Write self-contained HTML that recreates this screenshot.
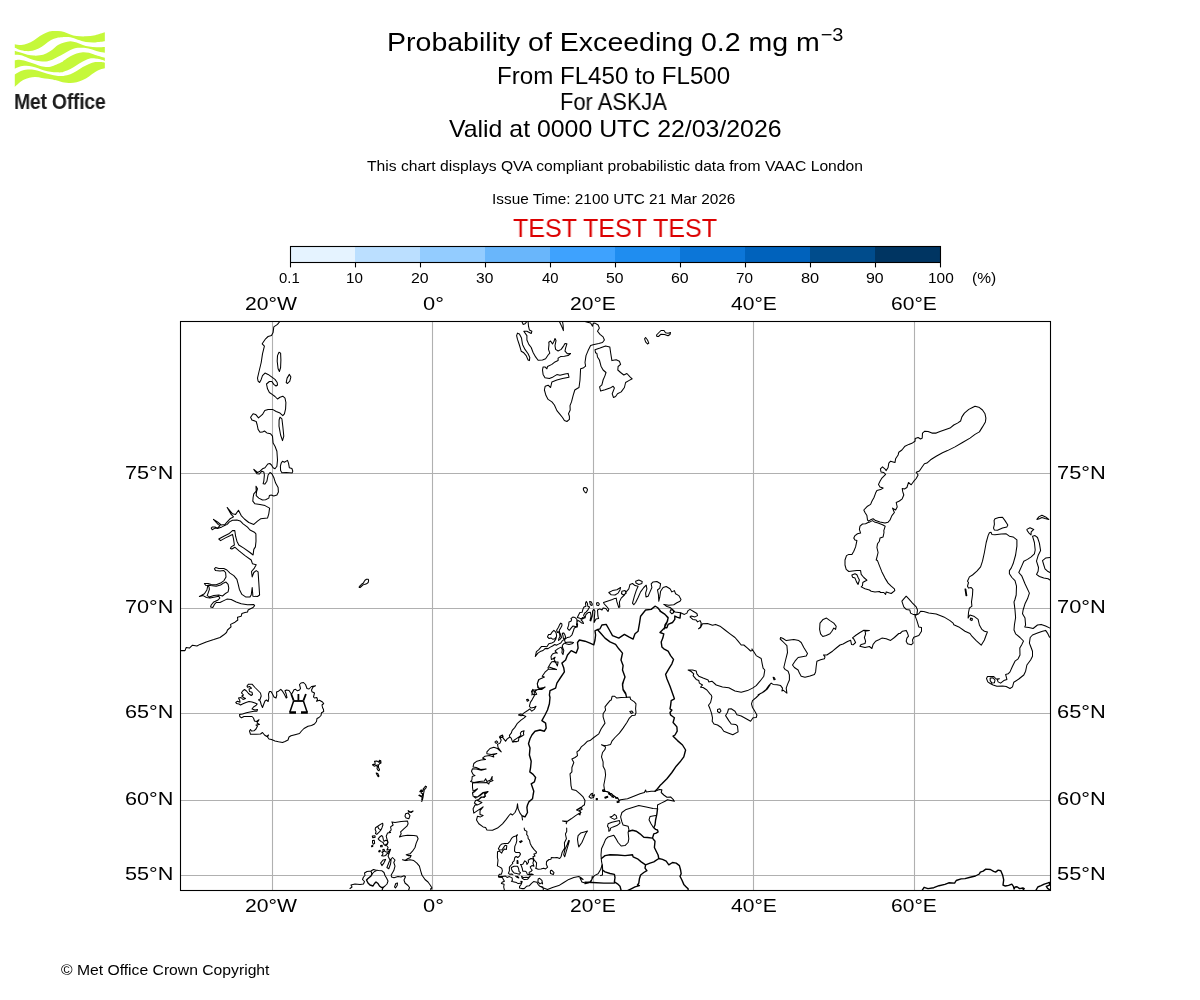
<!DOCTYPE html><html><head><meta charset="utf-8"><title>Probability of Exceeding 0.2 mg m-3</title><style>html,body{margin:0;padding:0;background:#fff}body{width:1200px;height:1000px;position:relative;overflow:hidden;font-family:"Liberation Sans",sans-serif}.t{position:absolute;white-space:nowrap;line-height:normal;transform-origin:0 0;font-family:"Liberation Sans",sans-serif;will-change:transform}.sup{font-size:70%;position:relative;top:-0.52em;margin-left:0.04em}svg{position:absolute;left:0;top:0}</style></head><body>
<svg width="1200" height="1000" viewBox="0 0 1200 1000">
<g fill="#c5f83a"><path d="M14.79,44.25C15.88,44.39 19.19,45.18 21.31,45.06C23.42,44.94 25.44,44.28 27.51,43.51C29.58,42.73 31.64,41.65 33.71,40.41C35.78,39.17 37.85,37.36 39.92,36.06C41.98,34.77 44.05,33.48 46.12,32.65C48.19,31.83 50.34,31.36 52.32,31.10C54.30,30.84 56.02,30.95 58.00,31.10C59.98,31.26 62.14,31.46 64.20,32.03C66.27,32.60 68.34,33.84 70.41,34.51C72.47,35.19 74.03,35.75 76.61,36.06C79.20,36.37 82.81,36.53 85.92,36.37C89.02,36.22 92.07,35.81 95.22,35.13C98.37,34.46 103.23,32.81 104.84,32.34L104.84,41.34C103.23,41.51 98.37,42.29 95.22,42.39C92.07,42.50 88.81,42.39 85.92,41.96C83.02,41.52 80.44,40.56 77.85,39.79C75.27,39.01 72.68,37.77 70.41,37.31C68.13,36.84 65.61,37.00 64.20,37.00C62.80,37.00 63.23,37.15 61.97,37.31C60.71,37.46 58.48,37.46 56.67,37.93C54.85,38.39 53.05,39.01 51.08,40.10C49.12,41.18 46.95,43.04 44.88,44.44C42.81,45.83 40.74,47.44 38.67,48.47C36.61,49.51 34.54,50.21 32.47,50.64C30.40,51.08 28.44,51.23 26.27,51.08C24.10,50.92 21.36,50.25 19.44,49.71C17.53,49.17 15.57,48.16 14.79,47.85Z"/><path d="M14.79,50.64C15.88,51.00 19.19,52.14 21.31,52.81C23.42,53.49 25.44,54.21 27.51,54.67C29.58,55.14 31.64,55.50 33.71,55.61C35.78,55.71 37.85,55.66 39.92,55.30C41.98,54.93 44.05,54.36 46.12,53.43C48.19,52.50 50.34,51.11 52.32,49.71C54.30,48.32 56.02,46.25 58.00,45.06C59.98,43.87 62.14,43.20 64.20,42.58C66.27,41.96 68.34,41.34 70.41,41.34C72.47,41.34 74.54,41.96 76.61,42.58C78.68,43.20 80.75,44.39 82.81,45.06C84.88,45.73 86.74,46.25 89.02,46.61C91.29,46.97 93.83,47.18 96.46,47.23C99.10,47.28 103.44,46.97 104.84,46.92L104.84,52.81C103.75,52.61 100.75,52.19 98.32,51.57C95.89,50.95 92.64,49.71 90.26,49.09C87.88,48.47 86.12,48.06 84.05,47.85C81.99,47.64 80.13,47.49 77.85,47.85C75.58,48.21 72.68,49.09 70.41,50.02C68.13,50.95 66.27,52.30 64.20,53.43C62.14,54.57 59.98,55.81 58.00,56.85C56.02,57.88 54.30,58.86 52.32,59.64C50.34,60.41 48.19,61.24 46.12,61.50C44.05,61.76 41.98,61.45 39.92,61.19C37.85,60.93 35.78,60.52 33.71,59.95C31.64,59.38 29.58,58.55 27.51,57.78C25.44,57.00 23.42,55.81 21.31,55.30C19.19,54.78 15.88,54.78 14.79,54.67Z"/><path d="M14.79,60.26C15.57,60.15 17.63,59.53 19.44,59.64C21.25,59.74 23.58,60.31 25.65,60.88C27.72,61.45 29.78,62.33 31.85,63.05C33.92,63.77 35.99,64.60 38.05,65.22C40.12,65.84 42.19,66.51 44.26,66.77C46.33,67.03 48.39,67.13 50.46,66.77C52.53,66.41 54.75,65.38 56.67,64.60C58.58,63.83 60.71,62.84 61.97,62.12C63.23,61.40 62.80,61.24 64.20,60.26C65.61,59.28 68.34,57.36 70.41,56.23C72.47,55.09 74.54,54.11 76.61,53.43C78.68,52.76 80.75,52.30 82.81,52.19C84.88,52.09 86.95,52.35 89.02,52.81C91.09,53.28 92.58,54.16 95.22,54.99C97.86,55.81 103.23,57.31 104.84,57.78L104.84,60.88C104.06,60.62 101.79,59.74 100.18,59.33C98.58,58.91 97.08,58.50 95.22,58.40C93.36,58.29 91.09,58.19 89.02,58.71C86.95,59.22 84.88,60.41 82.81,61.50C80.75,62.58 78.68,63.98 76.61,65.22C74.54,66.46 72.47,67.91 70.41,68.94C68.34,69.98 65.61,70.86 64.20,71.42C62.80,71.99 63.23,72.20 61.97,72.35C60.71,72.51 58.58,72.46 56.67,72.35C54.75,72.25 52.53,72.04 50.46,71.73C48.39,71.42 46.33,71.06 44.26,70.49C42.19,69.93 40.12,68.99 38.05,68.32C35.99,67.65 33.92,66.88 31.85,66.46C29.78,66.05 27.72,65.79 25.65,65.84C23.58,65.89 21.25,66.31 19.44,66.77C17.63,67.24 15.57,68.32 14.79,68.63Z"/><path d="M14.79,74.53C15.57,74.06 17.63,72.51 19.44,71.73C21.25,70.96 23.58,70.24 25.65,69.87C27.72,69.51 29.78,69.41 31.85,69.56C33.92,69.72 35.99,70.29 38.05,70.80C40.12,71.32 42.19,72.04 44.26,72.67C46.33,73.29 48.39,74.03 50.46,74.53C52.53,75.02 54.75,75.42 56.67,75.64C58.58,75.87 60.71,75.87 61.97,75.89C63.23,75.91 62.80,76.05 64.20,75.77C65.61,75.49 68.34,74.99 70.41,74.22C72.47,73.44 74.54,72.30 76.61,71.11C78.68,69.93 80.75,68.27 82.81,67.08C84.88,65.89 86.95,64.81 89.02,63.98C91.09,63.15 93.15,62.45 95.22,62.12C97.29,61.79 99.82,61.89 101.42,62.00C103.03,62.10 104.27,62.62 104.84,62.74L104.84,68.32C104.06,68.53 101.79,68.94 100.18,69.56C98.58,70.18 97.08,70.91 95.22,72.04C93.36,73.18 91.09,75.04 89.02,76.39C86.95,77.73 84.88,79.13 82.81,80.11C80.75,81.09 78.68,81.82 76.61,82.28C74.54,82.75 72.47,82.85 70.41,82.90C68.34,82.95 66.27,82.95 64.20,82.59C62.14,82.23 59.67,81.16 58.00,80.73C56.33,80.30 55.85,80.30 54.18,79.99C52.51,79.67 50.05,79.21 47.98,78.87C45.91,78.53 43.84,78.25 41.78,77.94C39.71,77.63 37.64,77.06 35.57,77.01C33.51,76.96 31.44,77.11 29.37,77.63C27.30,78.14 25.03,79.08 23.17,80.11C21.31,81.14 19.60,82.69 18.20,83.83C16.81,84.97 15.36,86.42 14.79,86.93Z"/></g>
<rect x="290" y="246" width="65.5" height="16.5" fill="#e5f3ff"/><rect x="355" y="246" width="65.5" height="16.5" fill="#bbdfff"/><rect x="420" y="246" width="65.5" height="16.5" fill="#93ccff"/><rect x="485" y="246" width="65.5" height="16.5" fill="#69b6fb"/><rect x="550" y="246" width="65.5" height="16.5" fill="#3ea2fe"/><rect x="615" y="246" width="65.5" height="16.5" fill="#1f8df0"/><rect x="680" y="246" width="65.5" height="16.5" fill="#0c76d8"/><rect x="745" y="246" width="65.5" height="16.5" fill="#0062bc"/><rect x="810" y="246" width="65.5" height="16.5" fill="#004c8c"/><rect x="875" y="246" width="65.5" height="16.5" fill="#003562"/><rect x="290.5" y="246.5" width="650" height="16" fill="none" stroke="#000" stroke-width="1.1"/>
<line x1="290.5" y1="262.5" x2="290.5" y2="267.4" stroke="#000" stroke-width="1.1"/><line x1="355.5" y1="262.5" x2="355.5" y2="267.4" stroke="#000" stroke-width="1.1"/><line x1="420.5" y1="262.5" x2="420.5" y2="267.4" stroke="#000" stroke-width="1.1"/><line x1="485.5" y1="262.5" x2="485.5" y2="267.4" stroke="#000" stroke-width="1.1"/><line x1="550.5" y1="262.5" x2="550.5" y2="267.4" stroke="#000" stroke-width="1.1"/><line x1="615.5" y1="262.5" x2="615.5" y2="267.4" stroke="#000" stroke-width="1.1"/><line x1="680.5" y1="262.5" x2="680.5" y2="267.4" stroke="#000" stroke-width="1.1"/><line x1="745.5" y1="262.5" x2="745.5" y2="267.4" stroke="#000" stroke-width="1.1"/><line x1="810.5" y1="262.5" x2="810.5" y2="267.4" stroke="#000" stroke-width="1.1"/><line x1="875.5" y1="262.5" x2="875.5" y2="267.4" stroke="#000" stroke-width="1.1"/><line x1="940.5" y1="262.5" x2="940.5" y2="267.4" stroke="#000" stroke-width="1.1"/>
<defs><clipPath id="mapclip"><rect x="180.5" y="321.5" width="870" height="569"/></clipPath></defs>
<g stroke="#b0b0b0" stroke-width="1.1"><line x1="272.5" y1="321.5" x2="272.5" y2="890.5"/><line x1="432.5" y1="321.5" x2="432.5" y2="890.5"/><line x1="593.5" y1="321.5" x2="593.5" y2="890.5"/><line x1="753.5" y1="321.5" x2="753.5" y2="890.5"/><line x1="914.5" y1="321.5" x2="914.5" y2="890.5"/><line x1="180.5" y1="875.5" x2="1050.5" y2="875.5"/><line x1="180.5" y1="800.5" x2="1050.5" y2="800.5"/><line x1="180.5" y1="713.5" x2="1050.5" y2="713.5"/><line x1="180.5" y1="608.5" x2="1050.5" y2="608.5"/><line x1="180.5" y1="473.5" x2="1050.5" y2="473.5"/></g>
<g clip-path="url(#mapclip)"><path d="M279.8,321.5 277.5,324.4 273.8,326.9 273.1,332.5 271.5,335.6 268.1,336.5 265.6,338.8 262.2,343.8 264.4,346.2 262.5,353.8 261.2,362.5 258.8,372.5 257.5,378.1 258.1,381.2 259.6,382.5 261.2,379.4 262.5,375.6 265,373.1 268.1,374.4 271.9,377.2 275,379.4 277.2,382.5 277.5,385 276,386 273.8,384.4 271.9,381.5 269.4,381.5 266.5,384 267.5,388.8 269.4,392.5 272.5,394.6 275,396.5 277.5,399 280,397.2 282.8,396.2 285,398.1 285.9,402.5 285.6,408.8 284.4,413.8 282.8,415.6 280,413.1 276.2,411.5 272.5,409.4 268.1,409.4 264.8,410.6 262.5,414.4 258.5,417.9 255.6,414.4 253.1,413.8 250.6,417.2 251.9,420 256.2,421.5 257.2,425 258.1,429.4 260,432.2 262.5,432.1 264.4,431 266.9,432.9 270.6,433.8 272.5,436.2 273.1,443.1M279,352.2 280.6,353.1 280.9,360 280.6,367.5 279.4,371.5 278.1,368.8 277.2,361.2 277.5,355.6ZM289.4,374.4 290.9,376.9 289.8,381.2 287.5,383.5 286.2,382.5 287.1,378.1ZM280,417.2 281.9,418.8 282.8,426.2 283.8,436.2 282.5,440.6 280.6,435 279,426.2 279.1,420ZM273.1,443.1 275,446.2 276.9,451.2 277.5,460 276.9,466.2 275,468.8 273.1,467.8 271.5,465 269.8,463.5 267.8,464 265,467.8 262.5,468.8 260,471.2 257.5,472.5 253.8,469.4 256.9,473.8 259.4,474 261.9,471.2 263.8,471.9 264.4,475 263.8,481.2 263.1,483.8 264.8,484.1 266.9,481.2 268.1,475 270,472.5 271.9,473.8 273.8,477.5 275.6,483.1 278.1,487.5 278.4,491.9 276.9,495 273.8,495.9 271.2,495 269.4,495.6 268.8,498.1 265.6,499.8 262.5,500 258.8,498.1 256.2,495.6 256.5,491.9 257.5,488.8 256,486.2 256.2,491.2 253.8,493.8 253.1,497.5 252.8,501.2 255,503.8 260,504.4 265,505.6 269.6,508.1 268.8,513.8 267.5,518.1 260.6,518.8 257.5,521.2 253.8,524.4 248.8,522.5 244.4,519 241.2,515.6 238.5,510.2 235.6,514.4 232.5,513.8 227.2,507.5 231.2,514.4 233.5,516.9 230,518.8 227.2,521.9 225,524.4 221.2,525 217.5,521.9 213.5,519.4 218.1,524.4 220,525.6 217.5,528.1 215,526.9 212.5,526.9 211.2,528.1 212.2,529.8 215,528.1 217.5,528.5 221.9,526.9 227.2,524.4 229.4,521.9 232.5,520.2 236.9,520 240.2,520.9 243.1,523.8 247.5,527.2 250,530 254.4,532.2 255.9,533.8 256,541.2 255.4,546.9 253.8,549.4 253.1,555 250,552.5 243.8,548.1 238.8,545 236.9,541.2 235.6,536.2 234.8,530.6 232.5,530.6 228.8,533.8 223.8,536.2 218.8,539 220.6,540.6 225,538.1 229.4,536 232.5,534.4 233.5,538.8 234.4,545 231.2,546.9 230.4,548.5 231.9,549 234.8,547.2 238.8,550.6 245,555.6 251.2,560M281.2,463.1 282.5,461.2 284.4,462.2 287.5,460.4 288.5,463.1 289.4,467.8 291.9,468.5 292.8,471.2 292.2,472.9 286.2,472.5 281.9,472.8 280.6,470.6 280.4,466.2ZM251.2,560 252.5,563.8 256.2,564.8 254.4,568.1 251.5,571.5 252.2,576.9 253.8,572.5 256.2,570.6 258.1,571.9 258.8,582.5 259.6,595 257.5,596.5 252.9,596.2 252.2,587.5 251.2,595 250,596.9 245.6,596.9 241.9,594.4 239.4,589.4 238.1,583.8 236.9,579.4 233.8,575.6 230,573.1 226.9,570 223.8,568.5 218.8,568.4 215.6,567.5 214.4,568.8 215.6,570.6 220,571 223.8,570.6 225.6,572.5 226,576.9 224,580.6 220.6,583.1 216.2,584.8 211.2,584.4 208.1,583.5 204.4,583.5 205.6,585.2 207.8,585.6 206.9,590 204.4,593.8 199.4,596.5 203.1,595.6 206.5,597.5 210,598.1 215,596.9 218.8,596.2 219.8,598.1 218.1,600 213.8,601.9 211.2,605 210.6,606.9 212.8,607.5 214.4,604.4 216.2,602.5 220,602.5 223.8,600.6 226.9,599.1 231.2,599.6 236.2,601.9 241.2,603.8 247.5,604.8 253.8,604.6 254.6,605.6 253.1,607.5 250,609 248.1,610 247.5,612.1 245,612.5 241.9,613.5 241.2,616.2 237.5,617.2 237.8,620 235,622.2 230.6,624.4 231,626.9 227.5,630 226.5,632.5 223.8,634.8 220,637.5 213.8,639.6 206.2,641.9 200,644.4 196.9,646 192.5,645.2 189.4,648.1 186.2,647.5 185,650.6 180.6,650.6M208.1,585.2 210.6,585.6 216.2,586.2 220.6,585 223.8,582.9 226,582.1 228.1,584.4 228.8,588.1 228.1,591.9 225,593.8 222.5,596 218.8,595 213.8,595.6 209.4,596.9 207.2,595.6 208.1,593.1 209.4,589.4 209,586.9ZM247,686 248.5,684.2 252,684.2 255,687.5 258,690.5 260.5,693 261.2,696 260,699.5 258.5,699.8 260.2,701 261.2,704.5 262.5,707.5 263.8,704 265,701 266.5,700 268.2,701.5 268.8,698 268.5,694 269.5,691.5 271,691.5 272.5,694 274,697 276,698 276.8,695 276.5,692 278.5,691.2 280.8,689.3 282.5,691.2 284.5,694.5 286.2,698 287,697.5 286.2,694 285,690.8 286.5,690 289,690.5 291,693.5 292.2,693.3 294,689.8 295.5,689.3 297.5,690.8 299.5,690 300.5,688.5 299.5,684.5 301,683 303.5,682.5 305.5,684.5 307,688.5 309,689 311.5,686.5 315.5,685.8 313,687 311.5,690 312,691.8 314.5,693 313.5,697 314.5,698 316.8,697.5 317.5,699.5 316.5,701.2 319.5,700.2 322.5,702 323.7,703.5 322,705 322.5,707.5 323.5,709.5 323.7,711.5 321.5,712.8 321,715.5 319,717.5 317,718.5 316.5,721.5 314.5,724 311.5,725.5 308,726.2 304,728.5 301.5,731 299.5,733.5 295,734.7 291,735.8 289,737 288,740 285,741.5 282.5,742.5 278.5,741.8 275,741 271.5,739.5 269,739 267.5,737 268.5,735 266.8,736.5 264.5,735 262.5,732.5 260.5,734 256,734.3 250.5,734.3 249.5,731 250.5,729.5 251.5,731 254,730.8 256,729 257.5,726 256,725 259.5,724.5 257,723 259,719.8 256.5,721.5 254.5,721 253.5,718 252,716.5 248,716.5 244,716.5 241.5,717.8 239.8,716.5 239.5,714.5 242.5,714 246.5,712.8 250,712 254,711.2 257,711.2 257.5,709.5 255,710 252,709 253.5,707 256,705.5 257.2,704 255,703 252,702 249,701.5 246,702.5 243,703.8 240.5,705 239,704 236.5,703.5 235.8,702.5 237.5,701.2 240,702.2 239.8,700.5 238.5,698 241,697.5 243,699.5 245.5,698.5 243.5,697.5 241.8,696 243.5,695 241.5,692.8 242.5,691.2 244.5,689.5 246.5,691 248.5,693.5 251.2,695.5 252.5,694.5 252,692.2 249.5,691.5 249,689 251.5,688.2 249.5,686.5 247.5,687.2ZM521.9,321.5 523.1,324.4 525,323.8 526.9,321.5M528.1,321.5 528.5,326.2 529.4,330 531.9,331.2 531.2,333.5 526.9,331.2 523.8,331.2 526.9,335.6 526.9,340 528.8,344.4 531.2,347.5 533.1,352.5 535.6,356.9 538.1,360.2 542.5,360 545.6,358.8 548.1,355 549.8,353.1 548.5,349.4 549,344.4 548.8,342.2 550.6,341 552.5,344 554,341.2 555,338.5 556,340.6 555,345.6 555.6,349.4 558.1,351 561.2,349.4 563.8,345.6 565,343.5 566.9,343.8 565.6,348.1 565,351.2 567.5,353.8 570.6,353.5 568.1,355.6 564.4,356.2 560.6,356.6 558.1,358.1 558.1,360.6 555,361.9 551.9,364.4 547.5,366.5 546.9,368.8 545,366.9 543.1,366.9 542.5,370 543.1,374.4 545,377.8 549.4,378.5 553.1,376.9 556.9,374.6 560,375.2 565,374 568.1,373.4 569,377.2 562.5,378.5 556.9,380 551.9,381.9 550.6,387.5 548.1,385.2 545.2,386.2 544.4,390 546,395.6 548.1,399.4 551.9,401.9 554.4,405 556.9,410.6 560,414.4 562.5,417.5 564.4,420.6 566.9,421.5 569.4,419.4 569.4,416.2 568.5,413.8 570.2,410 570,405.6 571.5,401.9 573.1,395.6 574.8,390 577.2,388.5 579,387.5 580,380 580.6,368.8 583.1,368.1 585.6,366.2 585,362.5 586,355.6 588.1,350.6 590.6,345.6 593.1,344.8 598.8,343.5 602.5,342.5 604.4,340 603.1,336.9 600,334.4 597.5,331.2 599.4,328.1 598.1,325 595,323.1 593.1,323.5 592.5,326.2 590.6,323.1 587.5,322.2 585,321.5M559.4,321.5 561.9,326.9 563.4,330.6 563.1,325 562.5,321.5M517.5,333.1 519.4,334 521.5,338.1 522.5,344.4 525,349.4 528.1,353.8 529.8,357.5 529.4,360.6 528.1,360 526.2,355.6 523.8,352.8 521.2,351.2 519.4,345 517.5,339.4 516.6,335.6ZM595,349.8 600,348.1 605.6,346 609.8,346.9 610.6,352.5 611.9,360.6 616.2,359.8 619.4,361.2 620.6,364.4 618.1,366.5 617.8,370 620.6,372.5 623.8,375 626.9,373.5 630,376.9 632.2,378.8 628.8,380.6 625.6,382.5 624.4,387.5 621.2,391.9 617.5,393.8 615.6,396.5 613.5,397.5 612.2,393.8 614.4,388.1 613.1,386.2 610,388.1 605,389.8 600.6,391 599.6,386.9 601.9,384.8 603.1,380 605,375.6 606,372.5 603.1,370 601,366.2 599.4,360 597.5,356.9 596.9,353.5 595.6,352.8ZM645.6,337.5 647.5,340 648.8,343.1 647.5,344 645.6,341.9 644.6,338.8ZM656.5,335 659,332.5 661,330.5 664,330.5 665.5,332.8 668,333.2 670.5,332.5 670,334.5 668,335.8 664.5,334.5 661,334.2 658.5,336.5 657,336.5ZM583.4,488 585,487.5 586.5,487.9 587.5,489.5 587,491.2 586.2,492.8 585.4,492.8 584.2,491.2 583.4,489.8ZM359.2,587.5 360,587.6 361.2,586.5 363,584.8 364.5,584.5 366.5,583.8 368.2,582.5 368.6,580.5 368.2,579.2 366.5,579.2 365,580.2 364,581.8 363.5,583 361.8,584 360,585.8 359.1,587ZM867.5,520 866.9,515.6 865,512.5 863.8,510 867.5,506.2 870.6,504.4 871.9,501.2 874,497.5 875.6,493.1 876.9,490.6 880.6,489.6 883.1,488.1 880,486.9 878.5,484.4 880,481.2 881.9,478.1 885.6,474.4 883.8,472.5 881,471.9 880.4,468.8 882.5,466.9 884.8,468.8 886.2,470.6 888.1,467.5 888.8,463.1 890.6,461.2 893.1,461.9 895,462.5 895.6,458.8 898.1,455 898.8,452.2 901.9,450 905,446.2 908.8,444.4 912.5,442.9 915,441.2 915.2,438.5 918.1,437.5 920.6,439 922.2,438.1 922.5,433.1 924.8,431.2 928.1,431.5 931.9,433.1 936.2,433.1 940,431.5 945,429.8 950,428.1 953.8,425 957.5,423.1 960.6,421 961.9,416.9 964.4,413.1 968.8,409.4 972.5,407.5 975,406.2 978.8,407.2 982.5,410 985,413.8 985.9,418.1 985.4,421.9 982.5,426.9 979.4,431.9 975,434.4 970,438.1 962.5,442.5 955,446.9 947.5,450.6 942.5,452.8 936.2,456.2 930.6,459.8 926.9,463.1 924.4,463.8 921.9,467.2 919.4,471 916.2,472.2 918.1,475 916.2,478.5 913.8,481.2 911.2,484.8 908.5,482.5 906.9,487.5 904.4,489 902.2,488.5 902.8,491.9 903.8,495 902.2,498.8 899.4,501 896.2,502.5 897.2,506.9 895.6,510 892.5,508.1 894.4,512.5 891.9,515.6 890,520M867.5,520 868.8,521.2 871.2,519.4 873.1,518.8 875.6,520.6 880,521.9 885,523.1 888.1,522.2 890,520M868.1,522.5 865.6,523.8 862.5,524 860,526.2 859.4,529.4 860.6,533.1 857.5,533.8 855,535.6 853.8,538.1 855,540 856.9,540.6 855.6,546.9 853.8,551.2 851.9,554.4 848.8,554.4 846.5,555.6 845,560 845,565 846.2,569.4 848.8,571.5 852.5,571 856.9,570.4 860.6,570.6 861.2,574.4 863.8,577.5 866.9,580.2 864.4,581.5 862.8,582.5 862.5,585.6 861.2,586.9 865,588.8 869.4,590 871.2,591.2 875,591.9 879.4,591.5 880.6,592.5 883.8,592.5 885.6,594.4 886.2,591.9 888.8,592.8 891.2,593.5 894.8,590.6 894.4,588.8 891.2,586.2 888.1,583.1 885,578.1 881.9,571.9 879.4,565.6 877.5,560.6 876.2,560 877.2,556.2 878.1,552.5 876.9,547.5 877.5,543.8 879.4,541.2 880,538.1 883.1,536.9 884,532.5 883.8,530.6 885.2,526.2 882.5,524.8 878.1,523.1 874.4,521.9 872.5,520.6 870,521.9ZM851.9,575 855,573.8 856.9,574.8 858.1,577.5 859.4,580 858.1,584.4 856.5,581.9 855,578.1 852.5,577.2ZM906.2,596.2 908.8,598.8 912.5,603.1 916.2,606.9 917.5,610 916.9,614.4 913.1,614.4 910.6,613.1 909.8,610 906.2,609.4 903.8,606.9 902.5,603.1 901.9,601.2 903.8,598.8ZM979.4,625 978.1,619.4 973.8,616.2 970,615 968.1,618.1 968.5,612.5 969.4,608.1 971.9,606.2 971.5,601.9 972.5,595 972.8,589.4 971.2,587.5 968.5,588.1 967.5,586.2 968.5,582.5 967.5,581.2 969.4,576.9 972.5,575 976.9,571.2 980.6,566.9 982.5,561.2 984.4,552.5 986.2,542.5 988.1,535.6 989.4,532.8 991,532.2 991.9,534.4 995,534.8 1001.2,534 1006.2,533.8 1009.4,536.2 1013.1,536.9 1016.9,539.8 1016.9,546.2 1015.6,555 1013.1,563.8 1011.2,568.1 1009.4,570.6 1009.4,573.8 1011.9,577.5 1015,580.6 1016.5,586.2 1016.2,595 1014.8,600 1014,601.9 1015,610 1015.6,617.5 1014.4,625M970.6,618.1 972.5,618.8 971.9,620.6 970.2,619.8ZM995,518.8 998.8,517.5 1002.5,517.2 1005,520.6 1007.8,525 1006.9,526.9 1002.5,528.1 997.5,530.2 994.4,530 993.5,528.1 994.4,524.4 994.1,520.6ZM965,589 965.8,589 966.8,595.6 966,595.6ZM1026.9,529.4 1030,527.8 1033.8,529.4 1031.2,531.9 1031,535 1028.8,532.8 1027.2,530.6ZM1025.6,625 1025,618.1 1022.5,613.8 1023.1,610 1025,603.8 1027.5,598.8 1029.4,593.1 1025,583.8 1021.9,576.2 1018.8,572.5 1021.9,565.6 1023.8,561.2 1027.5,559.4 1031.2,556.9 1034.4,553.8 1035.2,550 1034.4,542.5 1032.5,536.2 1035,535.6 1037.5,537.5 1039.4,543.1 1040.6,550.6 1038.1,555.6 1036.5,561.2 1038.5,567.5 1038.1,571.2 1036.5,574.4 1039.4,576.5 1043.8,578.1 1048.1,578.8 1050,580M1050,557.5 1045.6,558.1 1042.5,560.6 1043.8,565 1045,568.8 1047.5,571.2 1050,572.5M1036.9,519.4 1038.8,516.9 1041.9,515.2 1045.6,516.9 1048.8,519.4 1045,518.5 1041.9,517.5 1039.4,518.8ZM915,615.6 918.8,613.8 920.6,611.2 923.8,611.5 928.8,613.1 936.2,614 943.8,616.9 950,620.6 953.1,623.1 953.8,624.8 958.8,626.9 965,631.2 970,633.5 971.9,636.2 976.2,640.6 981.2,645.2 984.4,640 986.2,635 987.5,631.9 984.4,631.2 981.9,629.4 979.4,625M915,615.6 916.9,620.6 918.8,626.9 921.5,627.5 921.5,631.2 918.8,635.6 913.8,637.2 912.5,640 913.1,643.1 911.2,644.8 907.5,643.8 906.2,641.2 906.9,638.1 908.5,636.2 907.5,633.1 906.2,630.4 902.5,631.2 900,633.5M1014.4,625 1014,630 1015.6,633.8 1020,637.5 1023.5,641 1021.9,644.4 1019.8,648.1 1020,655 1018.1,658.8 1015,661.2 1012.5,666.2 1010,671.9 1008.1,673.8 1005.6,674.4 1006.9,679.4 1003.8,680.6 1000.6,683.1 998.1,681.9 997.2,679.4 999.4,678.8 996.2,679 993.8,676.5 987.5,676.5 986.5,678.5 987.8,681.9 990.2,683.5 993.1,685 996.9,686.2 1002.5,686 1006.2,686.5 1010,688.5 1012.5,686.9 1013.8,682.2 1018.8,679 1023.8,675 1025.6,671.2 1026.9,665 1030.6,660 1032.5,656.2 1032.5,651.2 1030.6,646.2 1029.4,643.1 1030.2,637.5 1032.5,635 1037.5,633.1 1042.5,631.2 1045.6,630.4 1047.5,633.1 1049.4,636.9 1050,637.5M990.2,678.1 993.1,677.8 995,680 994.4,682.8 991.9,683.1 990.2,680.6ZM1025.6,625 1024.8,626.9 1028.8,627.5 1033.1,628.5 1037.5,625 1041.2,624.4 1045.6,626 1050,628.1M531.9,695 532.5,690.2 538.8,689.4 545,687.2 538.8,688.5 537.2,683.8 538.5,679.8 544.4,677.1 542.2,676.2 545,672.2 548.5,669.1 556.5,669.6 549,666.9M548.5,669.1 548,667.8 549.9,664.4 551.8,661.8 554,661.4 555.9,662.9 557.4,665.9 558.1,662.1 555.5,661.8 554,659.5 555.1,657.3 552.9,658.8 551.4,659.5 551,656.5 552.5,653.9 555.5,652.8 557.4,653.1 555.9,652 555.1,650.9 558.1,648.6 561.1,647.1 562.3,649.8 561.9,652.8 563,654.6 563.8,650.5 562.6,647.5 562.3,645.3 564.1,643.4 566.8,642.3 570.5,642.1 573.5,642.6 572,643.8 569,644.5 566,643.8 565.3,642.3 564.5,640 565.3,638.9 567.5,637.4 569.8,637 572,634.8 573.1,631.8 574.3,628 575.8,627.3 577.3,626.9 577.6,624.3 576.9,622 578,620.5 579.5,621.3 581.8,623.1 583.6,623.4 582.5,621.3 581,619.8 582.5,617.5 585.1,617.9 585.9,614.5 588.1,612.6 590.4,612.3 591.1,616 590,620.5 590.8,620.9 592.3,616 592.6,611.1 593.8,609.3 594.9,611.1 594.5,616 594.1,622.4 596,619 598.6,618.6 597.9,616 597.5,610 599.8,608.9 602,610 603.1,608.1 605.8,608.5 608,611.5 608.8,609.3 606.5,606.3 604.3,604 603.5,602.5 605.8,601.8 609.5,600.6 612.5,599.5 614.8,598.4 616.3,598.2M616.2,598.1 616.9,601.9 618.8,607.5 619.8,606.9 619.4,601.9 621.2,598.1 624.4,595 626.2,591.9 628.8,588.8 630,584.4 632.5,583.5 635,585.6 638.1,586.2 636.2,590.6 634.4,596.2 632.5,603.1 633.8,604.8 635.6,602.5 638.1,597.5 640.6,591.9 643.8,587.5 646.2,585.2 646.9,588.8 645.6,593.1 646,596.9 648.1,596.2 650,591.9 651.9,587.5 651.2,583.8 653.1,581.9 656.9,581.5 660.6,583.8 659.8,588.1 657.5,590 658.5,595 658.8,601.2 659.8,596.9 660.6,591.2 663.1,587.5 666.2,586.5 670,588.8M535.3,656.5 536.4,651.6 538.6,649.8 541.6,646.4 544.6,646.4 546.9,646.8 548.8,643.8 551.8,643 554,641.9 555.9,638.9 556.6,635.9 556.3,633.6 555.5,631.8 553.9,630.3 552.1,632.1 550.6,634.4 548.6,634.4 547.4,636.9 549.1,638.5 551,637.9 552.9,639.3 554.8,638.7 556.1,637M535.3,656.5 537.9,653.1 540.1,651.6 543.1,650.5 545,648.6 548,648.6 550.3,647.1 552.5,646 554.8,644.5 556.3,645.3 558.5,644.1 560.8,643 562.3,640.8 564.1,639.3 565.3,638.5M560.8,623.1 561.9,623.9 561.9,625.8 560.4,628.4 559.3,630.3 559.6,632.5 560.8,634.8 561.5,637.4 560,639.3 558.5,640.4 558.9,638.5 560,636.6 559.6,634 558.5,631.8 557.4,632.5 556.6,630.3 558.5,627.3 559.6,624.6ZM562.3,633.3 563.8,632.9 564.9,634.8 565.6,637 564.9,638.9 563.4,638.5 563,635.9ZM567.5,628.4 568.6,625.4 569,622 570.9,621.3 571.6,619.8 570.9,618.6 572.8,617.1 575,617.5 576.9,619.4 576.9,622 576.5,624.6 577.3,626.9 575.4,626.5 572.8,626.1 570.9,628.4 569.4,630.3 568.3,629.5ZM577.3,617.5 579.1,614.1 579.9,612.6 582.1,612.3 582.9,609.3 584,607 585.9,606.3 585.5,603.3 586.3,601.4 587.4,603.3 587.8,606.3 589.6,607 588.1,609.6 586.3,611.9 584.8,613 583.6,615.3 584.8,617.5 582.5,619 579.9,618.3ZM589.6,601.4 591.1,601.8 592.3,604 591.9,605.5 590.4,604.8ZM608.8,592.5 612.5,590.6 616.9,589.8 620.6,587.5 620,590 618.1,593.1 615,595 611.2,594.8ZM635.6,581.2 638.8,580 642.2,581.5 641.9,583.5 638.8,584.4 636,583.1ZM596.5,603.1 598.1,602.5 599.4,604 598.5,605.6 596.9,605.2ZM621.9,591.2 625,590.6 626.2,593.1 623.8,595 621.5,593.8ZM670,588.8 671.9,591.9 674.4,590.6 675.6,593.8 678.8,595.6 681,599.4 680,601.2 676.9,602.8 673.8,604.8 668.8,605.2 663.8,604.4 666.2,606.2 670,607.5 672.5,609.4 675,611.9 680.6,612.8 684.4,614.4 686.9,613.1 688.1,610.6 690,609.4 693.1,611.2 696.9,613.5 697.5,615.6 695,616.9 691.2,616 690,616.9 692.8,619.4 696.2,620 697.5,621.9 700,620.6 701.2,623.1 700.6,626.9 698.5,628.8 700.6,627.5 702.5,623.8 707.5,623.5 712.5,625.2 715.6,624.4 720,626.2 725,630 730,633.8 735,637.5 738.1,641.2 741.2,645 743.8,645 747.5,648.1 750.6,651 752.5,650.6 751.9,649 753.5,651.2 756.2,655.6 761.2,658.5 762.2,663.8 763.1,668.1 764.8,670 763.8,676.2 760,681.2 756.2,685.6 752.5,688.1 747.5,690.6 741.2,692.2 735,691 728.8,687.8 722.5,686.9 716.2,685 711.9,681.2 708.8,681.9 708.1,680 703.1,678.1 698.8,676.2 696.9,673.8 696.2,671 692.5,670 688.1,670 691.2,671.5 693.8,673.8 693.1,675.6 696.2,679.4 698.8,680.6 699.4,683.1 702.5,685 700.6,687.2 703.1,687.5 706.9,690 710,693.8 711.2,695M670.6,609.8 670,611.9 671.9,613.8 673.8,612.5 673.1,610.2ZM758.1,695 758.8,694.4 762.5,692.5 766.2,689.4 768.8,685.6 771.2,683.1 773.1,684.4 776.9,684.8 780.6,685.6 782.5,688.1 781.9,691 783.1,690.2 786.9,693.1 786.2,688.1 787.5,684.4 789.4,680 789.4,675 788.1,671.2 785,669.4 783.8,667.5 785.6,660 787.5,652.5 786.9,645.6 783.8,642.5 780.2,639 780.6,637.5 783.1,638.5 786.2,640.6 793.8,639.4 798.8,640.6 801.2,642.5 803.8,647.5 807.5,653.5 806.2,656 798.1,657.5 795,661.2 792.5,665 794.4,667.5 798.1,670 799.4,673.1 801.2,676.2 805,677.2 810,676M773.1,677.2 774.4,677.8 775.2,679.4 774,679.8ZM711.2,695 711.9,696.9 710.6,702.5 708.5,705.2 710,708.8 711.5,713.1 712.5,717.8 712.2,721.2 714,724 717.5,725 721.2,727.5 723.8,731.2 728.1,732.9 732.8,734.8 738.1,731.9 737.5,726.2 735.6,724.4 731.2,724 728.8,720.6 725.6,715.6 727.5,712.5 728.5,709 731.2,708.8 735,711.2 736.9,714.8 741.2,716 746.2,718.8 750.6,721.2 753.1,717.8 756.2,717.5 756.9,715 754.4,710.6 752.5,707.5 751.5,703.8 752.5,700.6 756.2,697.5 760,693.8 763.8,691.9 767.5,688.8 770,685M717.5,709.4 719.8,708.8 721,711 719.4,712.8 717.5,711.5ZM810,676 814.4,674.4 815.6,671.9 816.2,666.2 816.9,661.2 820.6,659.8 824.4,658.8 825,656.9 823.5,655 826.9,655 832.5,651.2 836.9,647.5 840,645 843.1,644 847.5,641.5 850.6,640.2 851.5,644.4 853.1,644.8 855.6,642.5 853.8,639 852.5,637.8 856.2,635 860,632.5 863.8,630.2 869.4,630.6 865,631.2 865.6,633.8 864.4,637.5 865.6,641.2 865,643.5 861.2,644.4 859.8,646.2 865,647.5 869.4,646.5 871.9,648.5 873.1,644.4 875.6,641.2 878.8,639.8 881.9,638.1 886.2,638.8 890.6,640.4 894.4,637.5 898.8,633.5 900,633.5M820,623.1 823.1,619.4 826.5,618.1 830,620.6 833.8,623.1 836.2,626.2 835.6,629.4 833.8,628.1 831.9,631.2 830,633.8 826.2,635.4 822.8,636.5 820.6,633.8 819.6,629.4ZM405.6,813.8 408.1,813.1 410,815.6 408.8,818.8 406.2,818.1 405,816.2ZM408.1,810.6 410.6,811.9 413.1,811 411.2,812.5 408.8,811.9ZM421.9,875 420.6,870.6 419.4,866.2 416.9,863.1 413.8,860.6 410,859.8 406.2,860.6 402.5,859.8 405,860.6 407.5,858.8 410,857.8 411.2,855.6 408.1,855.6 406.2,854.8 410,853.8 412.5,851.2 415,847.5 416.2,843.1 418.1,838.8 416.9,836 413.8,835.4 407.5,835.2 402.5,836 399.4,836.9 401.2,833.8 400.6,831.9 403.8,828.8 406.9,826.2 408.1,823.8 407.5,821 401.2,821.6 395,822.5 391.9,821.9 393.1,825 390.6,826.9 391.2,830 389.4,831.9 390.6,832.5 387.5,833.1 386.2,836.2 386.9,838.8 388.1,842.5 386.2,845 388.1,847.5 386.9,850 390.6,849.4 389.4,852.5 388.1,856.2 390,860 392.5,857.5 395,860 393.8,862.5 395,866.2 393.8,870.6 391.2,875M380.6,863.1 383.1,860 385.6,859.4 383.8,863.1 381.9,865.6ZM386.9,867.5 389.4,861.2 391.2,858.8 390.6,863.8 388.8,868.8ZM421.9,875 425,879.5 428,882 430.5,885.5 432,888 430.5,889 431.5,890.5M391.2,875 391.5,877 394,877.8 398,876.5 401,877 404,875.8 405.5,876.8 404,880 405,883 408,885.5 409.5,887.5 408.5,890.5M394.5,887 395.8,883.5 397.5,883 397.2,885.5 395.5,888ZM350,888.5 352,887 351,885 355,884 360,884.5 363.5,884 364.5,881.5 362.5,879.5 363.5,877 365,875.5 364.5,873 367,871.5 371,871 373.5,869.5 375.5,870 378.5,870.5 382,870.8 384,872.5 385,875.5 386.5,878 388,881 387,884 385,886 383,887.5 382,890.5M371,871.2 372,874 374.5,871.5 376.2,870.8M538.8,680 537.4,683.5 537.8,687.7 541.3,688.4 545.1,687 542,689.4 537.8,689.4 535,691.2 536.7,694.3 534.3,695 532.5,694 531.5,691.5 532.9,689.4 534.3,691.9 534.3,695.7 532.2,699.6 530.4,702.4 529.4,706.2 530.8,708 533.6,707.6 536,706.2 534.3,709.4 531.8,711.1 529.7,709 527.3,710.8 524.1,712.9 522.4,714.3 520.3,713.9 518.5,715 521,715.7 523.1,715.3 525.9,716.4 523.8,718.1 521,720.2 517.1,723.7 514.7,727.6 512.2,730.4 511.2,733.2 509.4,735.3 509.8,737 507,739.1 505.6,741.2M509.8,737 511.2,738.1 512.2,740.9 512.9,742.3 514,740.2 516.8,738.4 518.9,737 521,735.3 520.3,733.2 521.7,731.4 524.1,730.7 523.4,733.2 523.8,734.9 521.7,736.3 518.9,737.7 518.5,740.9 516.8,741.6 514,741.6 512.9,742.3M526.6,699.6 528,699.2 528.7,700.6 527.3,701.3ZM495.1,741.6 496.5,740.9 497.8,742.1 496.5,743.3 495.2,742.8ZM505.6,741.2 503.1,738.1 501.9,735.6 499.4,736.9 501.2,740 500,743.1 497.5,744.4 498.1,747.5 501.2,751.9 497.5,748.5 493.8,747.2 490,748.5 486.9,751.9 486.9,753.8 491.2,754.4 496.9,753.5 493.1,755 493.8,756.9 489.4,755.6 485,756.2 482.5,758.1 485.6,759.4 481.2,760 476.9,761.2 473.8,763.5 473.1,766.9 476.2,767.5 480.6,769.4 486.2,769 481.2,770.2 476.2,769 472.5,768.8 471.5,771.2 473.1,774.4 475,775.6 472.2,776.5 471.9,780 470.6,781.5 473.8,782.5 479.4,781.5 484.4,781 485.6,778.8 486.9,781.5 490.6,780 492.2,776.5 491.9,780 493.1,780.6 489.4,781.9 488.8,784 486.9,782.5 481.9,782.8 476.2,782.8 472.5,783.1 472.5,787.5 473.1,791.2 477.5,788.8 474.4,791.9 472.5,793.1 473.1,796.2 475.6,798.1 480,795.6 483.8,792.5 488.1,791.5 485,794.4 484.4,797.5 481.2,796.9 478.8,799.4 475.6,800.6 474.4,803.1 477.5,805M500,736.2 502.5,735 503.1,736.9 500.6,737.8ZM610,700.6 606.9,704.4 605,706.9 605.6,710 603.1,713.8 603.1,716.9 605,723.1 601.2,728.8 598.8,733.8 593.8,737.5 590,740.6 587.5,741.2 584.4,744.4 581.2,746.9 579.4,750 576.9,751.9 577.5,755.6 575,757.5 571.9,759 573.8,762.5 571.9,767.5 571.9,771.9 570,773.8 570.6,780 571,785.6 571.9,789.4 576.2,790.6 580,793.8 583.1,796.9 585,800.6 584.4,805M472.5,792.5 473.1,796.2 477.5,796.9 483.1,792.5 488.1,791.5 484.4,793.8 485.6,796.2 481.2,797.5 477.5,800.6 481.9,802.5 478.8,804.4 475,805 473.1,808.8 473.8,813.1 477.5,810.6 483.1,806.9 480,810.6 480,814.4 483.1,815.6 480.6,816.9 477.5,816.2 476.5,820 478.8,823.8 483.1,826.9 485.6,827.5 486.9,830 492.5,830.2 497.5,828.1 502.5,823.8 506.2,819.4 509.4,815 510.6,813.8 512.5,815 515,812.5 516.9,808.1 517.5,803.8 518.1,808.8 520,813.1 521.9,815.6 522.5,820M524.2,828 524.5,830 526.9,831.4 526.7,834.7 527.9,836 528.2,838.7 529.5,840.1 530.2,843.4 531.5,846.1 533.9,849.4 536.6,852.1 535.9,853.5 533.9,854.1 534.9,856.1 532.9,856.8 533.9,859.5 536.6,862.8 536.2,867.5 535.6,868.2 538.2,869.2 540.9,868.9 543.6,868.2 545.6,868.9 547.6,867.2 546.3,864.2 546.6,861.5 549,859.5 551,859.2 551.3,857.5 554.3,857.8 557,857.5 559.7,858.5 561,856.8 562,852.8 563,850.8 564.7,848.1 564.4,842.7 566.4,838.7 565.4,834 566.7,831.4 566.7,828M566.2,823.8 566.9,821.9 562.5,821 567.5,821.2 571.2,818.8 575.6,815.6 579.4,813.1 580,815 580.6,811.9 576.9,810 580.6,808.1 583.1,805.6 584.4,805M578.1,835.6 580.6,833.1 584.4,831.9 587.5,831 585.6,833.8 583.8,838.1 581.9,842.5 578.8,846.9 578.1,843.8 577.5,839.4ZM504.4,890 503.7,887 504.1,884.3 501.4,883.6 502.1,882.3 504.4,881.3 503.1,878.9 502.4,877.6 498.7,877.2 498.4,876.1 499.4,874.2 501.4,874.2 502.4,870.9 501.7,868.2 499.4,866.9 497.4,865.9 498,860.2 497.4,857.5 497.5,851.8 499.4,851.1 501.7,853.1 502.7,850.8 504.4,849.1 506.4,849.4 506.8,845.8 505.1,845.3 503.7,847.4 502.1,849.8 499.4,850.1 498.4,848.8 500.1,845.4 501.7,844.1 504.7,843.4 508.1,843.4 510.1,841.1 511.8,838.1 513.5,836.7 515.8,836 517.5,834.7 516.5,836.4 516.8,840.7 516.1,843.4 514.8,846.4 514.5,851.1 515.8,852.5 519.5,852.5 520.5,854.1 519.5,856.1 517.8,857.5 516.1,856.5 514.8,857.5 514.1,860.8 512.4,862.5 512.8,863.5 510.8,865.5 509.4,867.2 509.4,870.9 508.4,873.2 509.4,874.2 511.8,873.9 512.8,874.6M498.4,876.2 502.7,876.4 505.4,876.1 507.1,877.4 509.4,876.6 512.1,877.9 512.4,880.3 511.4,881.3 514.1,881.9 516.5,882.6 518.1,883.6 520.5,883.3 521.8,882.3 520.8,881.3 522.2,881.6 521.2,884.3 519.5,886.6 519.5,888 521.8,888.6 524.2,888.6 526.5,886.3 529.2,885.8 531.5,883.3 533.6,881.6 536.9,882.3 538.2,884.6 539.9,886.3 542.9,887 543.3,889.6M539.9,886.3 543.6,888 547.5,889.4M547.5,889.4 552.5,887.5 558.8,885.6 563.8,882.5 568.8,879.4 573.8,877.5 578.8,876.5 580.6,877.5 583.1,879.4 580,878.1 581.9,881.9 585,883.1 590,881.9 591.9,879.4 592.2,876.2M610,700.6 611.2,700 612.2,696.2 614.4,696.2 616.9,698.1 621.2,697.5 626.5,697.2 630,696.9 630.6,699.4 634.4,701.9 636,703.8 635.6,708.8 636,712.8 635,715.2 631.9,715.6 629.4,718.1 626.9,722.5 623.1,728.1 619.4,733.1 615,737.5 611.9,741.2 610.6,744.4 607.5,745.2 603.8,745.6 601.5,744.8 605.6,746.9 605,749.4 602.5,752.5 601.5,756.9 603.1,761.9 603.1,766.2 605,770 605.6,775 604.8,780 603.8,785 604.4,789.4 602.5,790.6 605.6,791.2 608.8,792.5 611.9,794.4 615.6,796.9 618.1,798.8 619.4,800.6 616.9,801.9 620.6,799.8 627.5,798.8 633.8,796.2 640,793.8 644.4,792.5 645.6,790 646.2,791.9 651.2,791.2 655,791.2 659.4,789.4 661.9,789.8 661.2,792.5 663.8,795 666.9,797.2 670.6,796.9 673.1,799.4 674.4,801.2 667.5,799.8 665,801.2 661.2,803.1 657.5,805M629.8,711.5 631.9,711 633.1,712.5 631.2,713.5ZM657.5,805 657.5,808.8 653.1,808.5 646.2,806.9 638.8,805.6 632.5,807.5 626.2,809.4 621.9,812.5 620.6,816.9 621.9,821.9 623.1,825 628.1,826.2 629,830 628.1,832.5 628.8,838.8 628.1,842.5 625,845.6 621.2,846 618.1,842.5 615.6,838.1 613.8,835.2 608.1,836.9 605.6,839.4 603.8,843.8 601.5,848.8 601,855 601.5,861.2 602.2,865 600.6,869.4 598.1,873.8 594.4,875.6 592.5,878.1 591.2,881.2 588.1,883.1 585,883.8M655.6,815.6 650,816.6 649,819.8 651,823.8 653.5,827.8M602.5,870 602.5,875 600.6,875.6M608.1,823.8 611.9,822.2 616.2,821.2 619.4,820.6 620,823.1 616.9,825.6 613.1,826.9 610.6,828.1 610,830.6 608.8,831.2 608.8,828.1 607.5,826.2ZM610,816.9 612.5,816.2 614.4,814.4 616.2,815.6 616.9,818.1 614.4,819.4 611.9,818.1ZM374.5,761.2 376.8,760.9 378.5,762.2 379.5,760.2 380.8,760.8 381,763 379.5,763.8 378.5,765 378.5,767.5 379.5,769.5 379,770.8 377.8,770 377,768.5 377.5,766.5 376,765.5 374.2,766.2 372.5,764.8 373.5,764.2 375.2,764.5 375,762.5ZM379.5,760.2 380,763.5M376.8,765 378.5,765M376.2,773 377.8,773.5 379,776.2 378.2,776.8 377,774.8ZM425.5,786.1 426.5,786.8 425.5,788.7 424.3,789.2 424.1,791.1 423.6,793.5 423.1,796.9 422.4,800.2 421.7,799.8 422.2,797.4 418.8,795.4 419.3,795.1 422.2,796.4 422.6,793.5 421.2,793.3 421.4,791.6 419.8,791.6 421.2,789.9 422.6,791.6 423.4,788.5 424.6,787.3ZM421.3,801.2 422,801.3M375.5,827.7 377.7,826.3 380.9,824.1 382.7,823.2 382.9,825 382,827.7 380.9,829.9 379.1,832.2 376.8,834.4 375.5,833.5 376.1,831.7 375.2,829.5ZM377.7,826.3 378.6,828.6 380.9,829.9M372.3,836 375,835.8 375.2,837.3 372.8,837.8ZM372.5,840.5 374.3,840.3 374.6,843.4 373.2,844.3 372.5,842.5ZM371.6,845.7 372.8,845.4 372.8,846.6 371.6,846.8ZM378.2,838.9 380,836.7 381.8,835.5 382.7,836.7 383.3,839.4 384,841.2 385.8,840.3 387.2,840.7 387.8,843 387.2,844.5 385.8,844.3 385.4,845.7 384,844.5 383.1,842.5 381.3,841.6 379.5,840.3ZM380.6,845.4 382.2,845.2 382.2,846.8 380.6,846.8ZM378.6,851.1 380,850.2 380.4,851.1 379.1,852ZM382.7,849.7 384,849.3 384.9,851.5 387.2,852.2 389,851.1 390.5,849.3 389.4,852 388.1,853.3 386.3,854.2 385.8,855.6 383.6,856 381.5,855.8 382.7,854.7 382.9,852.9 381.8,852 383.6,851.5ZM511.4,867.5 514.1,866.2 517.5,866.3 518.5,868.2 519.1,871.6 520.5,872.6 519.5,874.2 516.8,873.6 514.1,872.9 512.4,871.2 511.4,868.9ZM520.5,864.5 522.8,864.2 524.8,860.8 526.5,862.2 526.9,864.5 528.5,862.2 528.2,860.2 530.9,858.5 532.9,858.8 533.6,860.8 532.9,862.8 533.9,866.2 532.2,865.5 530.2,866.9 530.9,868.5 532.2,870.2 530.9,871.6 529.2,872.2 529.2,874.2 531.5,873.9 533.2,874.6 530.2,874.9 527.2,874.2 526.5,872.2 525.2,871.2 522.8,871.2 522.2,868.2 521.2,865.5ZM521.5,876.2 523.5,877.6 526.2,877.2 528.2,877.6 530.2,876.2 527.5,879.3 524.2,879.6 522.2,878.3ZM515.5,876.2 517.8,876.6 518.8,877.9 516.8,877.2ZM517.1,860.5 517.8,860.5 518.1,863.5 517.1,863.5ZM519.5,841.7 521.5,840.7 522.2,841.4 520.5,842.6ZM550.6,870.5 551.6,870.2 554,872.6 553.3,874.6 550.6,873.6 550.3,871.9ZM538.2,878.9 539.6,878.3 541.9,880.3 542.6,883.9 541.6,882.9 539.9,883.9 537.9,881.6ZM569.4,840.7 568.1,845.4 566.4,850.8 564.7,856.8 563.7,854.8 565,849.4 567.1,844.8 568.7,840.4ZM602.5,790 604.5,789.5 605,791.5 603,791.5ZM607,791.5 609.5,792.5 609,794.5 611.5,793.5 613,795 612,797 614.5,796.2 616,798.5 617.5,797.5 619,800M608.5,793.5 611,795.5 613.5,797.5M589,796.8 591,794 592.5,793.2 592,796.2 594.5,794.8 593.5,797.5 591,798.2ZM596.2,798.6 597.4,798.6 597.4,799.6 596.2,799.6ZM604.8,797.2 607.5,796.2 607.8,797.2 605.2,798.2ZM617,801.8 619,801.2 619.2,802.2 617.4,802.6ZM576.5,810 581,807.2 582.2,809.2 579.5,810.5 581,812.5 579,814.5" fill="none" stroke="#000" stroke-width="1.05" stroke-linejoin="round" stroke-linecap="round"/>
<path d="M597.4,629.6 595,630.9 595.6,635 595,640 593.8,644.8 590,643.1 585,641.2 579.4,640 577.5,642.5 578.1,648.1 576.2,653.1 571.2,650.6 567.5,655 565.6,660 561.9,663.1 563.8,668.1 564.4,671.9 560.6,677.5 556.9,683.1 555.6,688.1 550,690.6 549.4,695M597.4,629.6 600,628.8 601.9,625 606.2,624.4 609.4,630 612.5,635.6 618.8,638.1 624.4,634.4 628.8,636.9 633.1,639.1 635,633.8 638.1,631.2 639.4,623.8 640.6,616.2 645.6,610 651.2,609.4 655,606.2 657.5,607.5 660.6,611.2 665,614.4 668.1,617.5 667.5,621.2 665,625 664.4,628.8M597.8,630 601.2,633.8 605,638.1 610,641.9 615.6,644.4 618.8,648.8 622.5,653.1 621,660 623.1,665.6 622.5,670 625,676.9 622.5,683.8 623.1,690 626.2,695M660,611.2 665,614.4 668.1,618.1 666.9,622.5 664.4,627.8 666.9,627.8 668.1,624.4 672.5,622.5 674.8,619.4 674.8,616 676.9,617.2 680,618.1 680.6,613.1M664.4,628.1 661.2,631.2 660,632.5 663.8,633.8 662.8,638.1 661.2,641.9 661.9,646.9 663.8,648.8 668.1,651.2 670.6,655.6 673.5,659.4 671.9,663.8 668.8,668.8 665.6,674.4 666.9,678.8 670,686.2 673.1,695M673.1,695 674.4,698.8 671.2,700.6 670.6,705.6 670,708.8 671.9,710 670,712.5 670.6,715 674.4,717.8 673.1,722.5 676.9,726.9 677.2,731.2 675,735 673.1,736.2 677.5,740.6 682.5,745 685.6,750 683.8,756.9 680.6,761.2 676.2,766.2 671.9,772.5 666.9,778.8 661.9,783.8 660,785.6M922.1,890.3 924.1,887.3 928,888.6 933.8,887.7 939,885.7 944.9,884.4 948.8,882.8 954.6,883.1 956.2,880.5 961.1,878.9 965,878.6 970.2,877.3 975.4,876 979.3,874 980.3,872.1 983.2,871.1 985.8,869.1 990.4,869.5 993.6,871.4 995.6,872.1 998.2,870.1 1000.8,870.8 1002.7,875.3 1003.7,879.9 1003,885.1 1005.3,886 1008.6,885.4 1011.8,884.1 1013.4,886.4 1014.1,889 1015.1,887 1017,886.7 1019.6,888.6 1022.9,888 1024.2,888.6 1022.9,890.3M1035.9,890.3 1037.8,887 1041.1,885.7 1044.3,884.1 1048.2,882.8 1049.8,882.5 1049.5,885.1 1046.3,886.4 1047.6,888.3 1050.5,890.3M372,874 371,876 368,878.5 366.5,880 368,883 370,885 373,886 374.5,883.5 376,882 378,883.5 379.5,886 381.5,887.5 383,887.5M549.4,695 550,697.5 549.4,703.8 547.5,710 545,715 541.9,720.6 545.6,723.1 546.2,728.1 544.4,731.2 540,730 535,731.2 531.9,735 530,738.8 528.5,743.8 530,748.1 529.4,755 531.2,761.2 530.6,767.5 529.8,771.9 533.1,774.4 535.6,777.5 534.4,781.9 531.2,783.8 532.5,787.5 533.8,791.2 533.1,795 532.5,798.8 528.8,801.9 527.5,805M527.5,805 526.9,807.5 527.5,812.5 525,816.9 522.5,816M623.8,680 622.5,685 623.1,689.4 625.6,693.1 626.5,697.2M660,785.6 657.5,788.8 655,791.2M657.5,808.8 656.9,813.8 655.6,820 655,825 653.8,827.5 655.6,829.4 657.5,830 658.1,831.9 656.2,833.1 653.8,833.8 652.5,838.1M628.8,831.2 632.5,830.2 636.2,831.2 640,833.8 643.8,837.2 647.5,837.5 652.5,838.1 655,841.2 654.4,847.5 656.2,851.2 658.1,855 658.8,858.5M601.5,858.5 605,855.6 610,854.8 617.5,855 625,855.6 630.6,855 632.5,854.8 633.1,856.9 637.5,858.8 641.2,861.9 645.6,864.8 650,863.1 653.8,861.9 658.8,858.5 662.5,859.4 666.2,861.2 668.8,864.8 672.5,862.5 676.2,863.1 679.4,865.6 680.6,870 681.2,873.8 680,876.2 681.9,880 683.8,884.4 686.2,886.9 688.1,888.8 688.1,890.6M645.6,864.8 645,868.1 646.9,870.6 643.8,872.5 640.6,875 639.4,878.8 638.8,883.1 637.5,885 639.4,885.6 635,886.9 631.2,888.8 627.5,890.6M602.2,865 602.5,870 605,871.9 610,873.5 614.4,874.4 615,877.5 614.4,881.9 617.5,883.8 620,886.2 621.2,890.6M585,882.2 592.5,882.5 603.8,883.1 614.4,883.1" fill="none" stroke="#000" stroke-width="1.4" stroke-linejoin="round" stroke-linecap="round"/>
<g stroke="#000" fill="none"><path d="M293.2,701H303.8" stroke-width="1.8"/><path d="M293.6,701L289.9,712M303.4,701L307.1,712" stroke-width="1.5"/><path d="M293.6,700.4L291.2,694M298.4,700.4V694M303.5,700.4L305.9,694" stroke-width="1.8"/><path d="M289.3,712.5H296M301,712.5H307.8" stroke-width="2.7"/></g></g>
<rect x="180.5" y="321.5" width="870" height="569" fill="none" stroke="#000" stroke-width="1.1"/>
</svg>
<div class="t" style="left:386.70px;top:27.29px;font-size:26.2px;color:#000;font-weight:400;transform:scaleX(1.0893);">Probability of Exceeding 0.2 mg m<span class="sup">−3</span></div>
<div class="t" style="left:497.47px;top:62.70px;font-size:23.2px;color:#000;font-weight:400;transform:scaleX(1.0396);">From FL450 to FL500</div>
<div class="t" style="left:560.47px;top:89.10px;font-size:23.2px;color:#000;font-weight:400;transform:scaleX(0.9424);">For ASKJA</div>
<div class="t" style="left:448.81px;top:115.70px;font-size:23.2px;color:#000;font-weight:400;transform:scaleX(1.0719);">Valid at 0000 UTC 22/03/2026</div>
<div class="t" style="left:367.39px;top:157.88px;font-size:14.5px;color:#000;font-weight:400;transform:scaleX(1.0788);">This chart displays QVA compliant probabilistic data from VAAC London</div>
<div class="t" style="left:492.42px;top:190.58px;font-size:14.5px;color:#000;font-weight:400;transform:scaleX(1.0594);">Issue Time: 2100 UTC 21 Mar 2026</div>
<div class="t" style="left:512.70px;top:213.29px;font-size:26.2px;color:#dc0000;font-weight:400;transform:scaleX(0.9557);">TEST TEST TEST</div>
<div class="t" style="left:61.34px;top:961.88px;font-size:14.5px;color:#000;font-weight:400;transform:scaleX(1.0827);">© Met Office Crown Copyright</div>
<div class="t" style="left:972.40px;top:270.33px;font-size:14.0px;color:#000;font-weight:400;transform:scaleX(1.1062);">(%)</div>
<div class="t" style="left:244.62px;top:292.81px;font-size:19.0px;color:#000;font-weight:400;transform:scaleX(1.1130);">20°W</div>
<div class="t" style="left:244.62px;top:894.80px;font-size:19.0px;color:#000;font-weight:400;transform:scaleX(1.1130);">20°W</div>
<div class="t" style="left:422.57px;top:292.81px;font-size:19.0px;color:#000;font-weight:400;transform:scaleX(1.1515);">0°</div>
<div class="t" style="left:422.57px;top:894.80px;font-size:19.0px;color:#000;font-weight:400;transform:scaleX(1.1515);">0°</div>
<div class="t" style="left:569.83px;top:292.81px;font-size:19.0px;color:#000;font-weight:400;transform:scaleX(1.1062);">20°E</div>
<div class="t" style="left:569.83px;top:894.80px;font-size:19.0px;color:#000;font-weight:400;transform:scaleX(1.1062);">20°E</div>
<div class="t" style="left:730.74px;top:292.81px;font-size:19.0px;color:#000;font-weight:400;transform:scaleX(1.1085);">40°E</div>
<div class="t" style="left:730.74px;top:894.80px;font-size:19.0px;color:#000;font-weight:400;transform:scaleX(1.1085);">40°E</div>
<div class="t" style="left:890.83px;top:292.81px;font-size:19.0px;color:#000;font-weight:400;transform:scaleX(1.1062);">60°E</div>
<div class="t" style="left:890.83px;top:894.80px;font-size:19.0px;color:#000;font-weight:400;transform:scaleX(1.1062);">60°E</div>
<div class="t" style="left:124.79px;top:862.80px;font-size:19.0px;color:#000;font-weight:400;transform:scaleX(1.1383);">55°N</div>
<div class="t" style="left:1056.78px;top:862.80px;font-size:19.0px;color:#000;font-weight:400;transform:scaleX(1.1483);">55°N</div>
<div class="t" style="left:124.79px;top:787.80px;font-size:19.0px;color:#000;font-weight:400;transform:scaleX(1.1383);">60°N</div>
<div class="t" style="left:1056.78px;top:787.80px;font-size:19.0px;color:#000;font-weight:400;transform:scaleX(1.1483);">60°N</div>
<div class="t" style="left:124.79px;top:700.80px;font-size:19.0px;color:#000;font-weight:400;transform:scaleX(1.1383);">65°N</div>
<div class="t" style="left:1056.78px;top:700.80px;font-size:19.0px;color:#000;font-weight:400;transform:scaleX(1.1483);">65°N</div>
<div class="t" style="left:124.79px;top:595.80px;font-size:19.0px;color:#000;font-weight:400;transform:scaleX(1.1383);">70°N</div>
<div class="t" style="left:1056.78px;top:595.80px;font-size:19.0px;color:#000;font-weight:400;transform:scaleX(1.1483);">70°N</div>
<div class="t" style="left:124.79px;top:461.81px;font-size:19.0px;color:#000;font-weight:400;transform:scaleX(1.1383);">75°N</div>
<div class="t" style="left:1056.78px;top:461.81px;font-size:19.0px;color:#000;font-weight:400;transform:scaleX(1.1483);">75°N</div>
<div class="t" style="left:279.28px;top:270.33px;font-size:14.0px;color:#000;font-weight:400;transform:scaleX(1.0628);">0.1</div>
<div class="t" style="left:346.22px;top:270.33px;font-size:14.0px;color:#000;font-weight:400;transform:scaleX(1.0842);">10</div>
<div class="t" style="left:411.20px;top:270.33px;font-size:14.0px;color:#000;font-weight:400;transform:scaleX(1.1324);">20</div>
<div class="t" style="left:476.00px;top:270.33px;font-size:14.0px;color:#000;font-weight:400;transform:scaleX(1.1121);">30</div>
<div class="t" style="left:542.20px;top:270.33px;font-size:14.0px;color:#000;font-weight:400;transform:scaleX(1.0587);">40</div>
<div class="t" style="left:605.72px;top:270.33px;font-size:14.0px;color:#000;font-weight:400;transform:scaleX(1.1244);">50</div>
<div class="t" style="left:671.08px;top:270.33px;font-size:14.0px;color:#000;font-weight:400;transform:scaleX(1.1336);">60</div>
<div class="t" style="left:736.21px;top:270.33px;font-size:14.0px;color:#000;font-weight:400;transform:scaleX(1.0914);">70</div>
<div class="t" style="left:801.01px;top:270.33px;font-size:14.0px;color:#000;font-weight:400;transform:scaleX(1.1715);">80</div>
<div class="t" style="left:866.08px;top:270.33px;font-size:14.0px;color:#000;font-weight:400;transform:scaleX(1.1332);">90</div>
<div class="t" style="left:928.30px;top:270.33px;font-size:14.0px;color:#000;font-weight:400;transform:scaleX(1.1020);">100</div>
<div class="t" style="left:13.88px;top:89.84px;font-size:21.5px;color:#1c1c1c;font-weight:700;transform:scaleX(0.9063);letter-spacing:-0.3px;">Met Office</div>
</body></html>
